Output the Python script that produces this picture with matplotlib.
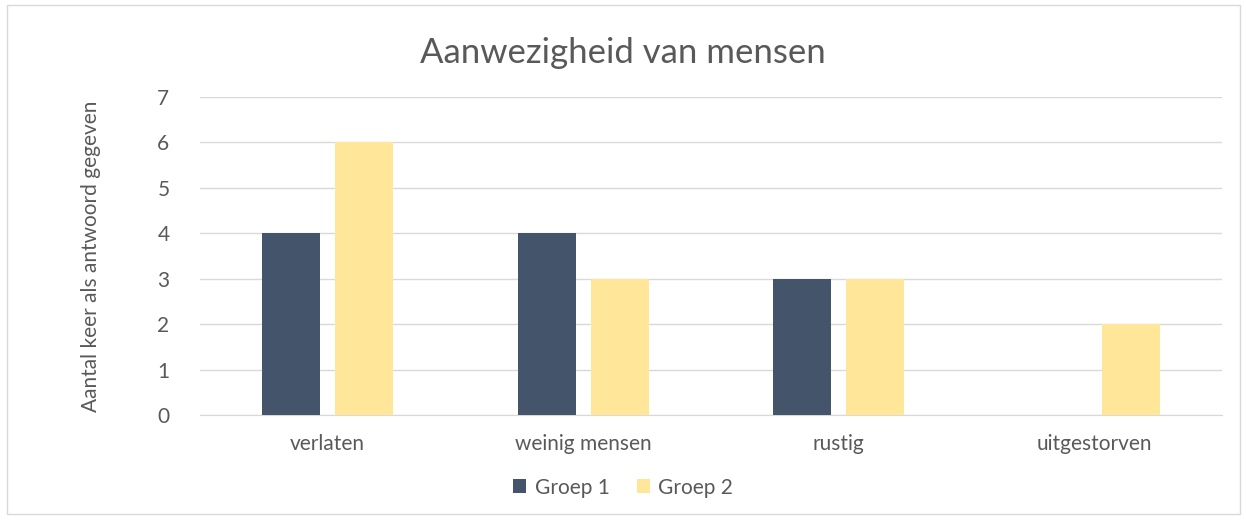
import matplotlib
matplotlib.use("Agg")
import matplotlib.pyplot as plt
import numpy as np
from matplotlib.patches import Rectangle

categories = ["verlaten", "weinig mensen", "rustig", "uitgestorven"]
groep1 = [4, 4, 3, 0]
groep2 = [6, 3, 3, 2]
series_names = ["Groep 1", "Groep 2"]

plt.rcParams['font.family'] = ['Lato', 'DejaVu Sans']
text_col = '#595959'

fig = plt.figure(figsize=(12.46, 5.2), dpi=100)
ax = fig.add_axes([0.1605, 0.2019, 0.8202, 0.6116])

x = np.arange(len(categories))
w = 0.227
gap = 0.059
ax.bar(x - (w + gap) / 2, groep1, w, color='#44546A', label=series_names[0], zorder=3)
ax.bar(x + (w + gap) / 2, groep2, w, color='#FFE699', label=series_names[1], zorder=3)

ax.set_xlim(-0.5, len(categories) - 0.5)
ax.set_ylim(0, 7)
ax.set_yticks(range(8))
ax.set_xticks(x)
ax.set_xticklabels(categories)
ax.tick_params(axis='both', length=0, labelsize=15, colors=text_col)
ax.tick_params(axis='x', pad=14)
ax.tick_params(axis='y', pad=22)
ax.grid(axis='y', color='#D9D9D9', linewidth=1, zorder=0)
for s in ['top', 'right', 'left']:
    ax.spines[s].set_visible(False)
ax.spines['bottom'].set_color('#D9D9D9')

ax.set_ylabel("Aantal keer als antwoord gegeven", fontsize=15, color=text_col)
ax.yaxis.set_label_coords(-0.097, 0.5)
fig.text(0.5, 0.898, "Aanwezigheid van mensen", ha='center', va='center', fontsize=25,
         color=text_col)

leg = fig.legend(loc='center', bbox_to_anchor=(0.5, 0.062), ncol=2, frameon=False,
                 fontsize=15, handlelength=0.65, handleheight=0.65, columnspacing=1.3,
                 handletextpad=0.4)
for t in leg.get_texts():
    t.set_color(text_col)

fig.patches.append(Rectangle((0.006, 0.012), 0.989, 0.978, transform=fig.transFigure,
                             fill=False, edgecolor='#D9D9D9', linewidth=1))

fig.savefig("out.png", dpi=100)
